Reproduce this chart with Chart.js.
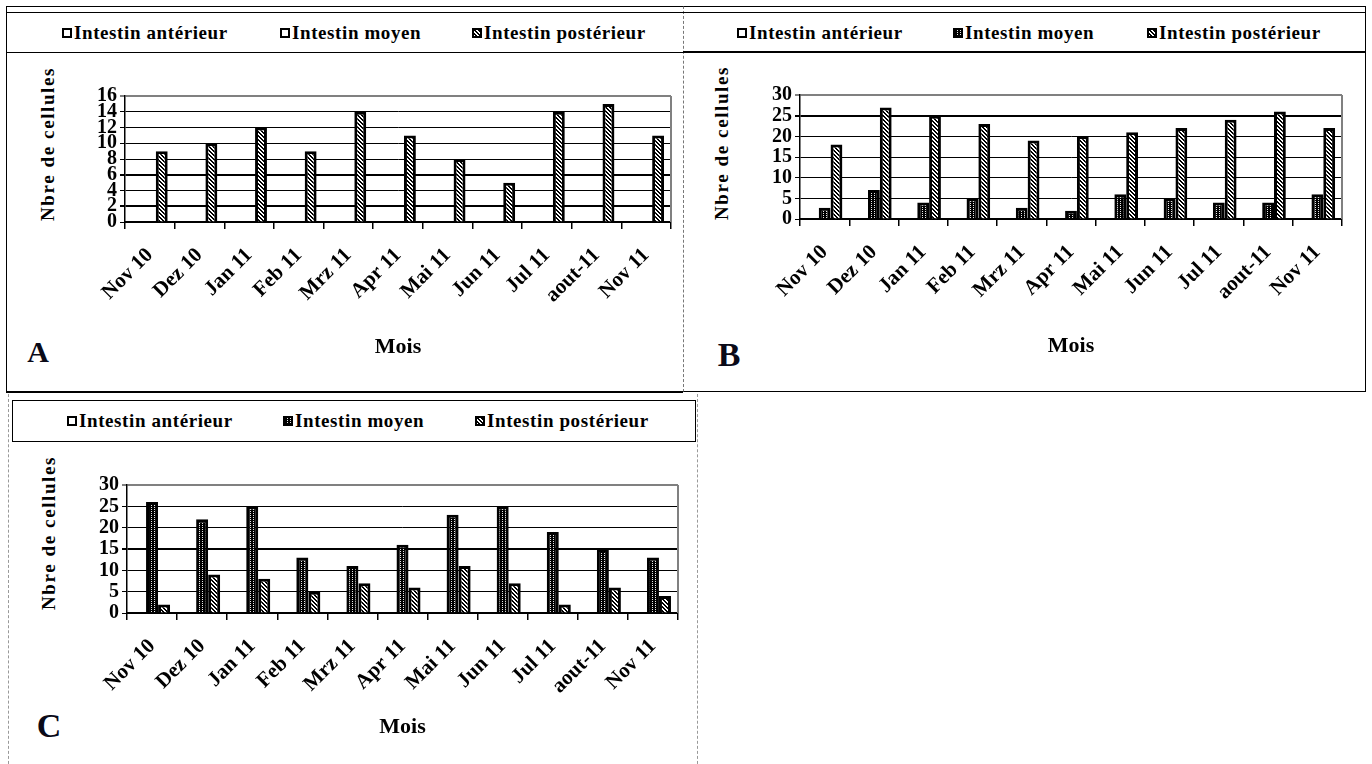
<!DOCTYPE html>
<html lang="fr">
<head>
<meta charset="utf-8">
<title>Nbre de cellules par mois</title>
<script src="https://cdn.jsdelivr.net/npm/chart.js@4.4.1/dist/chart.umd.min.js"></script>
<style>
  html, body { margin: 0; padding: 0; background: #fff; }
  body {
    width: 1372px; height: 764px; position: relative; overflow: hidden;
    font-family: 'Liberation Serif', 'Times New Roman', serif; font-weight: bold; color: #000;
  }
  .cadre, .legende { position: absolute; box-sizing: border-box; }
  .item {
    position: absolute; display: flex; align-items: center; white-space: nowrap;
    font-size: 19px; letter-spacing: 0.6px; transform: translateY(-50%);
  }
  .item canvas { margin-right: 2px; }
  .titreY {
    position: absolute; white-space: nowrap; font-size: 19px; letter-spacing: 1.6px;
    transform: translate(-50%, -50%) rotate(-90deg);
  }
  .lettre { position: absolute; transform: translate(-50%, -50%); color: #0a0a18; line-height: 1; }
  canvas.graphe { position: absolute; }
</style>
</head>
<body>

<!-- cadres et boites de legende -->
<div class="cadre" style="left:6px;top:6px;width:677px;height:387px;border-top:1px solid #000;border-left:1px solid #000;border-bottom:2px solid #000;"></div>
<div class="legende" style="left:6px;top:12px;width:677px;height:41px;border-top:1px solid #000;border-bottom:1px solid #000;"></div>

<div class="cadre" style="left:683px;top:6px;width:683px;height:386px;border-top:1px solid #000;border-left:1px dashed #777;border-right:1px solid #000;border-bottom:1px solid #000;"></div>
<div class="legende" style="left:683px;top:12px;width:683px;height:41px;border-top:1px solid #000;border-bottom:2px solid #000;"></div>

<div class="cadre" style="left:8px;top:394px;width:690px;height:380px;border-left:1px dashed #999;border-right:1px dashed #999;"></div>
<div class="legende" style="left:12px;top:400px;width:684px;height:42px;border:1.5px solid #000;"></div>

<div id="legA"></div>
<div id="legB"></div>
<div id="legC"></div>

<div class="titreY" style="left:48px;top:144px;">Nbre de cellules</div>
<div class="titreY" style="left:722px;top:143px;">Nbre de cellules</div>
<div class="titreY" style="left:49px;top:533px;">Nbre de cellules</div>

<div class="lettre" style="left:38px;top:352px;font-size:30px;">A</div>
<div class="lettre" style="left:729px;top:355px;font-size:34px;">B</div>
<div class="lettre" style="left:49px;top:726px;font-size:34px;">C</div>

<canvas id="graphA" class="graphe" width="672" height="338" style="left:7px;top:53px;"></canvas>
<canvas id="graphB" class="graphe" width="681" height="337" style="left:684px;top:53px;"></canvas>
<canvas id="graphC" class="graphe" width="685" height="323" style="left:12px;top:441px;"></canvas>

<script>
const mois = ['Nov 10', 'Dez 10', 'Jan 11', 'Feb 11', 'Mrz 11', 'Apr 11', 'Mai 11', 'Jun 11', 'Jul 11', 'aout-11', 'Nov 11'];
const series = ['Intestin antérieur', 'Intestin moyen', 'Intestin postérieur'];

// A
const anterieurA = [0, 0, 0, 0, 0, 0, 0, 0, 0, 0, 0];
const moyenA = [0, 0, 0, 0, 0, 0, 0, 0, 0, 0, 0];
const posterieurA = [9, 10, 12, 9, 14, 11, 8, 5, 14, 15, 11];

// B
const anterieurB = [0, 0, 0, 0, 0, 0, 0, 0, 0, 0, 0];
const moyenB = [2.7, 7, 4, 5, 2.7, 2, 6, 5, 4, 4, 6];
const posterieurB = [18, 27, 25, 23, 19, 20, 21, 22, 24, 26, 22];

// C
const anterieurC = [0, 0, 0, 0, 0, 0, 0, 0, 0, 0, 0];
const moyenC = [26, 22, 25, 13, 11, 16, 23, 25, 19, 15, 13];
const posterieurC = [2, 9, 8, 5, 7, 6, 11, 7, 2, 6, 4];

const ticksA = [0, 2, 4, 6, 8, 10, 12, 14, 16];
const ticksBC = [0, 5, 10, 15, 20, 25, 30];

const police = "'Liberation Serif', 'Times New Roman', serif";

// motifs (hachures comme dans Excel)
function motifRayures() {
    const c = document.createElement('canvas');
    c.width = 4; c.height = 4;
    const g = c.getContext('2d');
    g.fillStyle = '#fff';
    g.fillRect(0, 0, 4, 4);
    g.fillStyle = '#000';
    for (let y = 0; y < 4; y++) {
        for (let x = 0; x < 4; x++) {
            if (((x - y) % 4 + 4) % 4 < 2) g.fillRect(x, y, 1, 1);
        }
    }
    return g.createPattern(c, 'repeat');
}

function motifPoints() {
    const c = document.createElement('canvas');
    c.width = 3; c.height = 2;
    const g = c.getContext('2d');
    g.fillStyle = '#000';
    g.fillRect(0, 0, 3, 2);
    g.fillStyle = '#e8e8e8';
    g.fillRect(1, 0, 1, 1);
    return g.createPattern(c, 'repeat');
}

const rayures = motifRayures();
const points = motifPoints();

function legende(id, pos, remplissages) {
    const div = document.getElementById(id);
    series.forEach((nom, i) => {
        const item = document.createElement('div');
        item.className = 'item';
        item.style.left = pos.x[i] + 'px';
        item.style.top = pos.y + 'px';
        const c = document.createElement('canvas');
        c.width = 10; c.height = 10;
        const g = c.getContext('2d');
        g.fillStyle = remplissages[i];
        g.fillRect(0, 0, 10, 10);
        g.strokeStyle = '#000';
        g.lineWidth = 2;
        g.strokeRect(1, 1, 8, 8);
        item.appendChild(c);
        item.appendChild(document.createTextNode(nom));
        div.appendChild(item);
    });
}

legende('legA', { x: [62, 280, 472], y: 33 }, ['#fff', '#fff', rayures]);
legende('legB', { x: [737, 953, 1147], y: 33 }, ['#fff', points, rayures]);
legende('legC', { x: [67, 283, 475], y: 421 }, ['#fff', points, rayures]);

// bord droit gris de la zone de tracé
const bordGris = {
    id: 'bordGris',
    afterDraw(chart) {
        const { ctx, chartArea: a } = chart;
        ctx.save();
        ctx.strokeStyle = '#808080';
        ctx.lineWidth = 2;
        ctx.beginPath();
        ctx.moveTo(a.right, a.top);
        ctx.lineTo(a.right, a.bottom);
        ctx.stroke();
        ctx.restore();
    }
};

function creerGraphe(id, anterieur, moyen, posterieur, graduations, epais, geo) {
    const yMax = graduations[graduations.length - 1];
    const pas = graduations[1] - graduations[0];
    const ctx = document.getElementById(id).getContext('2d');
    return new Chart(ctx, {
        type: 'bar',
        data: {
            labels: mois,
            datasets: [
                { label: series[0], data: anterieur, backgroundColor: '#fff', borderColor: '#000', borderWidth: 3 },
                { label: series[1], data: moyen, backgroundColor: points, borderColor: '#000', borderWidth: 3 },
                { label: series[2], data: posterieur, backgroundColor: rayures, borderColor: '#000', borderWidth: 3 }
            ]
        },
        options: {
            responsive: false,
            animation: false,
            layout: { padding: { left: 0, top: geo.haut, right: geo.droite, bottom: 0 } },
            datasets: { bar: { categoryPercentage: 0.72, barPercentage: 1 } },
            plugins: {
                legend: { display: false },
                tooltip: { enabled: false }
            },
            scales: {
                x: {
                    afterFit: s => { s.height = geo.hautX; },
                    grid: { offset: true, drawOnChartArea: false, drawTicks: true, tickLength: 7, color: '#000', lineWidth: 1.5 },
                    border: { color: '#000', width: 2 },
                    ticks: {
                        color: '#000',
                        font: { family: police, size: 21, weight: 'bold' },
                        minRotation: 45, maxRotation: 45,
                        autoSkip: false,
                        padding: geo.padX
                    },
                    title: {
                        display: true,
                        text: 'Mois',
                        color: '#000',
                        font: { family: police, size: 22, weight: 'bold' },
                        padding: { top: 0, bottom: geo.padMois }
                    }
                },
                y: {
                    min: 0,
                    max: yMax,
                    afterFit: s => { s.width = geo.largY; },
                    ticks: {
                        stepSize: pas,
                        autoSkip: false,
                        color: '#000',
                        font: { family: police, size: 20, weight: 'bold' },
                        padding: 3
                    },
                    grid: {
                        color: c => c.tick.value === yMax ? '#808080' : '#000',
                        lineWidth: c => (c.tick.value === yMax || epais.includes(c.tick.value)) ? 2 : 1,
                        tickLength: 5
                    },
                    border: { color: '#000', width: 1.5 }
                }
            }
        },
        plugins: [bordGris]
    });
}

creerGraphe('graphA', anterieurA, moyenA, posterieurA, ticksA, [2, 6],
    { haut: 43, droite: 8, largY: 118, hautX: 169, padMois: 30, padX: 14 });
creerGraphe('graphB', anterieurB, moyenB, posterieurB, ticksBC, [25],
    { haut: 42, droite: 23, largY: 116, hautX: 171, padMois: 30, padX: 14 });
creerGraphe('graphC', anterieurC, moyenC, posterieurC, ticksBC, [15],
    { haut: 44, droite: 19, largY: 115, hautX: 151, padMois: 23, padX: 14 });
</script>
</body>
</html>
